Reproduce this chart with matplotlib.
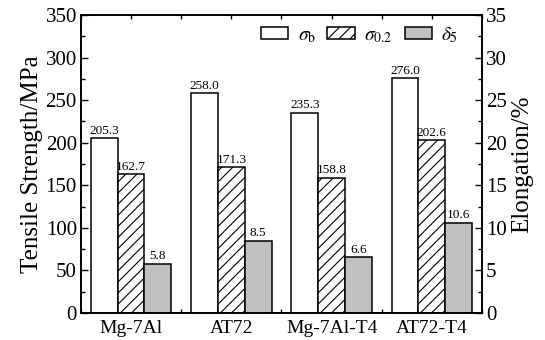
import numpy as np
import matplotlib
matplotlib.use("Agg")
import matplotlib.pyplot as plt
from matplotlib.ticker import MultipleLocator
from matplotlib.patches import Patch

plt.rcParams['font.family'] = ['Liberation Serif', 'DejaVu Serif']
plt.rcParams['mathtext.fontset'] = 'stix'
plt.rcParams['hatch.linewidth'] = 0.8

alloys = ["Mg-7Al", "AT72", "Mg-7Al-T4", "AT72-T4"]
sigma_b = [205.3, 258.0, 235.3, 276.0]
sigma_02 = [162.7, 171.3, 158.8, 202.6]
delta_5 = [5.8, 8.5, 6.6, 10.6]

fig = plt.figure(figsize=(5.45, 3.4), dpi=100)
ax = fig.add_axes([0.1486, 0.0794, 0.7358, 0.8766])
ax2 = ax.twinx()

x = np.arange(len(alloys))
w = 0.267
lw = 1.1

ax.bar(x - w, sigma_b, w, color='white', edgecolor='black', linewidth=lw, zorder=2)
ax.bar(x, sigma_02, w, color='white', edgecolor='black', linewidth=lw,
       hatch='///', zorder=2)
ax2.bar(x + w, delta_5, w, color='#c0c0c0', edgecolor='black', linewidth=lw, zorder=2)

for xi, v in zip(x - w, sigma_b):
    ax.text(xi, v + 1.5, f"{v:.1f}", ha='center', va='bottom', fontsize=9.5)
for xi, v in zip(x, sigma_02):
    ax.text(xi, v + 1.5, f"{v:.1f}", ha='center', va='bottom', fontsize=9.5)
for xi, v in zip(x + w, delta_5):
    ax2.text(xi, v + 0.15, f"{v:.1f}", ha='center', va='bottom', fontsize=9.5)

ax.set_xlim(-0.5, 3.5)
ax.set_ylim(0, 350)
ax2.set_ylim(0, 35)
ax.set_xticks(x)
ax.set_xticklabels(alloys)
ax.xaxis.set_minor_locator(MultipleLocator(0.5))
ax.yaxis.set_major_locator(MultipleLocator(50))
ax.yaxis.set_minor_locator(MultipleLocator(25))
ax2.yaxis.set_major_locator(MultipleLocator(5))
ax2.yaxis.set_minor_locator(MultipleLocator(2.5))

ax.tick_params(axis='x', which='both', direction='in', top=True, length=3, width=1,
               labelsize=14, pad=5)
ax.tick_params(axis='y', which='major', direction='in', length=5, width=1, labelsize=15, pad=3)
ax.tick_params(axis='y', which='minor', direction='in', length=3, width=1)
ax2.tick_params(axis='y', which='major', direction='in', length=5, width=1, labelsize=15, pad=3)
ax2.tick_params(axis='y', which='minor', direction='in', length=3, width=1)

for a in (ax, ax2):
    for s in a.spines.values():
        s.set_linewidth(1.2)

ax.set_ylabel("Tensile Strength/MPa", fontsize=18, labelpad=2)
ax2.set_ylabel("Elongation/%", fontsize=18, labelpad=3)

handles = [
    Patch(facecolor='white', edgecolor='black', linewidth=lw),
    Patch(facecolor='white', edgecolor='black', linewidth=lw, hatch='///'),
    Patch(facecolor='#c0c0c0', edgecolor='black', linewidth=lw),
]
labels = [r'$\sigma_{\rm b}$', r'$\sigma_{0.2}$', r'$\delta_5$']
ax2.legend(handles, labels, loc='upper right', ncol=3, frameon=False, fontsize=14,
           handlelength=1.4, handleheight=0.6, columnspacing=0.6, handletextpad=0.5,
           bbox_to_anchor=(0.985, 1.025))

fig.savefig("out.png", dpi=100)
